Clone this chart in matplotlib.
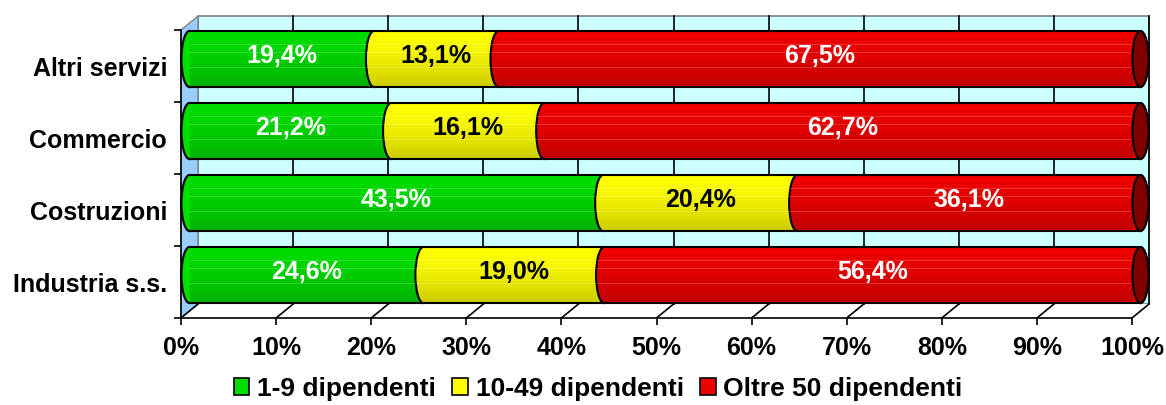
import numpy as np
import matplotlib.pyplot as plt
from matplotlib.patches import Ellipse, Rectangle, Polygon

plt.rcParams['font.family'] = ['Liberation Sans', 'DejaVu Sans']
plt.rcParams['font.weight'] = 'bold'

categories = ['Industria s.s.', 'Costruzioni', 'Commercio', 'Altri servizi']
small = [24.6, 43.5, 21.2, 19.4]    # 1-9 dipendenti
medium = [19.0, 20.4, 16.1, 13.1]   # 10-49 dipendenti
large = [56.4, 36.1, 62.7, 67.5]    # Oltre 50 dipendenti
series_names = ['1-9 dipendenti', '10-49 dipendenti', 'Oltre 50 dipendenti']
colors = ['#00dd00', '#ffff00', '#ee0000']
text_colors = ['white', 'black', 'white']

fig = plt.figure(figsize=(11.66, 4.05), dpi=100)
ax = fig.add_axes([181 / 1166, 87 / 405, 951 / 1166, 288 / 405])
ax.set_xlim(0, 100)
ax.set_ylim(-0.5, 3.5)

dx, dy = 1.79, 0.194   # depth offset of the back wall
h = 0.39               # half height of a bar
cap_w = 1.7
fs = 18

# back wall, left wall, floor
ax.add_patch(Rectangle((dx, -0.5 + dy), 100, 4, facecolor='#ccffff', edgecolor='#808080',
                       lw=1.2, zorder=0, clip_on=False))
ax.add_patch(Polygon([(0, -0.5), (dx, -0.5 + dy), (dx, 3.5 + dy), (0, 3.5)], closed=True,
                     facecolor='#99ccff', edgecolor='#808080', lw=1, zorder=0.5, clip_on=False))
ax.add_patch(Polygon([(0, -0.5), (dx, -0.5 + dy), (100 + dx, -0.5 + dy), (100, -0.5)], closed=True,
                     facecolor='white', edgecolor='none', zorder=0.5, clip_on=False))
for g in range(10, 101, 10):
    ax.plot([g + dx, g + dx], [-0.5 + dy, 3.5 + dy], color='black', lw=1.2, zorder=0.6, clip_on=False)
for g in range(0, 101, 10):
    ax.plot([g, g + dx], [-0.5, -0.5 + dy], color='black', lw=1.2, zorder=0.6, clip_on=False)

grad = np.zeros((50, 2, 4))
a = np.linspace(0, 1, 50)
grad[:, :, 3] = (0.2 * a ** 1.5)[:, None]
for i, cat in enumerate(categories):
    yc = i + dy / 2
    vals = [small[i], medium[i], large[i]]
    start = dx / 2
    for k, v in enumerate(vals):
        ax.add_patch(Ellipse((start, yc), cap_w, 2 * h, facecolor=colors[k], edgecolor='black',
                             lw=1.5, zorder=2 + k * 0.1, clip_on=False))
        ax.add_patch(Rectangle((start, yc - h), v, 2 * h, facecolor=colors[k], edgecolor='none',
                               zorder=2.05 + k * 0.1, clip_on=False))
        ax.text(start + v / 2, yc + 0.04, f'{v:.1f}%'.replace('.', ','), ha='center', va='center',
                fontsize=fs, fontweight='bold', color=text_colors[k], zorder=5)
        start += v
    ax.imshow(grad, extent=(dx / 2, start, yc - h, yc + h), aspect='auto', zorder=2.5,
              interpolation='bilinear', origin='upper')
    for off in (0.55, 0.25, -0.3):
        ax.plot([dx / 2, start], [yc + off * h, yc + off * h], color='white', lw=0.7, alpha=0.2,
                zorder=2.6, clip_on=False)
    ax.plot([dx / 2, start], [yc + h, yc + h], color='black', lw=1.5, zorder=3, clip_on=False)
    ax.plot([dx / 2, start], [yc - h, yc - h], color='black', lw=1.5, zorder=3, clip_on=False)
    ax.add_patch(Ellipse((start, yc), cap_w, 2 * h, facecolor='#800000', edgecolor='black',
                         lw=1.5, zorder=3, clip_on=False))

ax.set_xlim(0, 100)
ax.set_ylim(-0.5, 3.5)
ax.set_xticks(range(0, 101, 10))
ax.set_xticklabels([f'{t}%' for t in range(0, 101, 10)], fontsize=fs, fontweight='bold')
ax.set_yticks(range(4))
ax.set_yticklabels(categories, fontsize=fs, fontweight='bold')
ax.set_yticks([-0.5, 0.5, 1.5, 2.5, 3.5], minor=True)
ax.tick_params(axis='y', which='major', length=0, pad=10)
ax.tick_params(axis='y', which='minor', length=5, width=1.2)
ax.tick_params(axis='x', length=5, width=1.2, pad=8)
ax.set_facecolor('none')
for s in ['top', 'right']:
    ax.spines[s].set_visible(False)
for s in ['left', 'bottom']:
    ax.spines[s].set_linewidth(1.2)
    ax.spines[s].set_zorder(1)

handles = [Rectangle((0, 0), 1, 1, facecolor=c, edgecolor='black', lw=1.2) for c in colors]
fig.legend(handles, series_names, loc='center', bbox_to_anchor=(0.513, 0.04), ncol=3,
           frameon=False, prop={'size': 19, 'weight': 'bold'}, handlelength=0.6,
           handleheight=0.6, handletextpad=0.3, columnspacing=0.6)

fig.savefig('out.png', dpi=100)
